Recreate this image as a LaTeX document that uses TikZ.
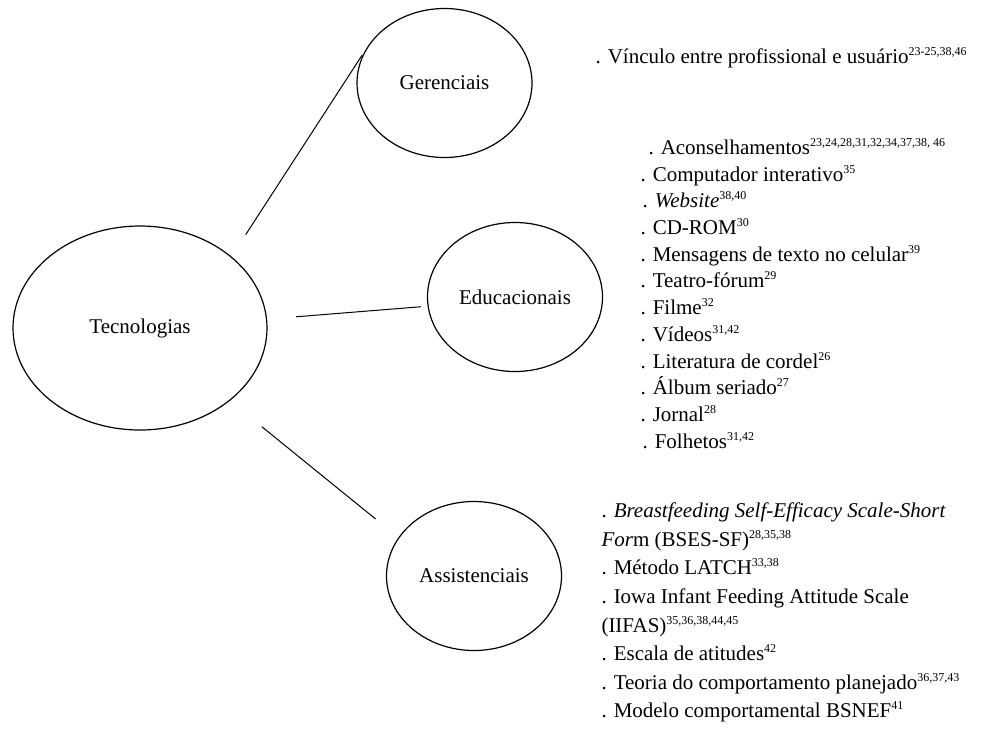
\documentclass[tikz,border=0pt]{standalone}
\usepackage{fontspec}
\setmainfont{Liberation Serif}
\usepackage{tikz}
\usetikzlibrary{shapes,positioning}
\newcommand{\rf}[1]{\textsuperscript{\fontsize{6}{6}\selectfont #1}}

\begin{document}
\begin{tikzpicture}[x=0.5pt,y=-0.5pt,line width=0.5pt,font=\fontsize{10.5}{12}\selectfont]
	\def \edux{640}
	\def \assx{601}
	\tikzstyle{t-node}=[ellipse,draw=black!100,line width=0.6pt,inner sep=0pt,minimum width=87.5pt,minimum height=74.5pt]
	\tikzstyle{big-node}=[t-node,minimum width=127pt,minimum height=102pt]
	\tikzstyle{item}=[anchor=base west,inner sep=0pt]
	\useasboundingbox (0,0) rectangle (1001,730);

	% centre
	\node[big-node]	(tec)	at (140,328)	{Tecnologias};

	% categorias
	\node[t-node]	(ger)	at (444.5,83)	{Gerenciais};
	\node[t-node]	(edu)	at (515,297)	{Educacionais};
	\node[t-node]	(ass)	at (474,576)	{Assistenciais};

	\path (tec.38)	edge[shorten <=13pt,shorten >=2.5pt]	(ger.158)
		(tec.4.5)	edge[shorten <=14.5pt,shorten >=3.4pt]	(edu.186.3)
		(tec.-39.8)	edge[shorten <=20.5pt,shorten >=14.7pt]	(ass.153.4);

	% gerenciais
	\node[item]	(g1)	at (595,63)	{. V\'inculo entre profissional e usu\'ario\rf{23-25,38,46}};

	% educacionais
	\node[item]	(e1)	at (\edux+8,154)	{. Aconselhamentos\rf{23,24,28,31,32,34,37,38, 46}};
	\node[item]	(e2)	at (\edux,181)	{. Computador interativo\rf{35}};
	\node[item]	(e3)	at (\edux+2,207)	{. \textit{Website}\rf{38,40}};
	\node[item]	(e4)	at (\edux,234)	{. CD-ROM\rf{30}};
	\node[item]	(e5)	at (\edux,261)	{. Mensagens de texto no celular\rf{39}};
	\node[item]	(e6)	at (\edux,287)	{. Teatro-f\'orum\rf{29}};
	\node[item]	(e7)	at (\edux,314)	{. Filme\rf{32}};
	\node[item]	(e8)	at (\edux,341)	{. V\'ideos\rf{31,42}};
	\node[item]	(e9)	at (\edux,368)	{. Literatura de cordel\rf{26}};
	\node[item]	(e10)	at (\edux,394)	{. \'Album seriado\rf{27}};
	\node[item]	(e11)	at (\edux,421)	{. Jornal\rf{28}};
	\node[item]	(e12)	at (\edux+2,448)	{. Folhetos\rf{31,42}};

	% assistenciais
	\node[item]	(a1)	at (\assx,517)	{. \textit{Breastfeeding Self-Efficacy Scale-Short}};
	\node[item]	(a2)	at (\assx,546)	{\textit{For}m (BSES-SF)\rf{28,35,38}};
	\node[item]	(a3)	at (\assx,574)	{. M\'etodo LATCH\rf{33,38}};
	\node[item]	(a4)	at (\assx,603)	{. Iowa Infant Feeding Attitude Scale};
	\node[item]	(a5)	at (\assx,632)	{(IIFAS)\rf{35,36,38,44,45}};
	\node[item]	(a6)	at (\assx,660)	{. Escala de atitudes\rf{42}};
	\node[item]	(a7)	at (\assx,689)	{. Teoria do comportamento planejado\rf{36,37,43}};
	\node[item]	(a8)	at (\assx,717)	{. Modelo comportamental BSNEF\rf{41}};
\end{tikzpicture}
\end{document}
